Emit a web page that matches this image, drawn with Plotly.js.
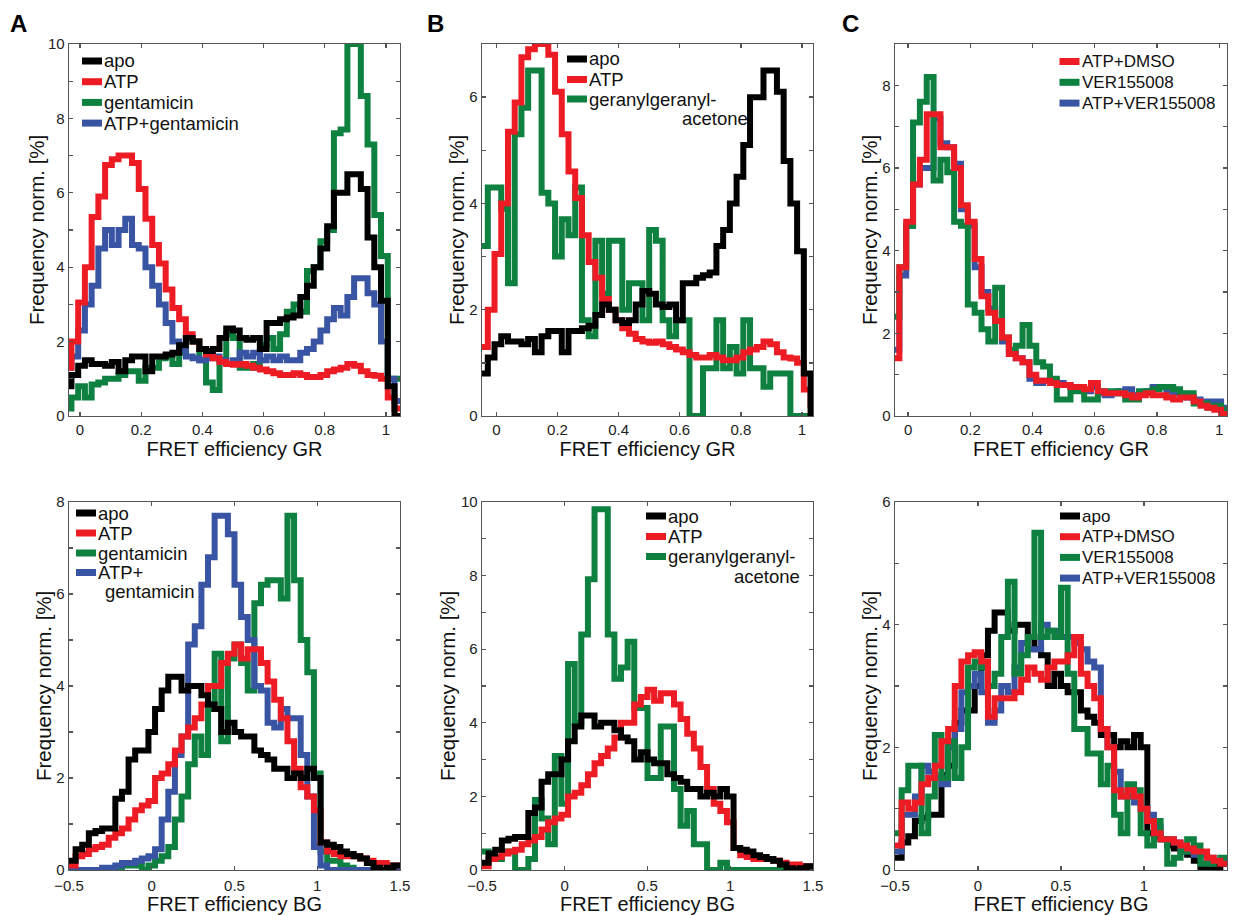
<!DOCTYPE html>
<html>
<head>
<meta charset="utf-8">
<script src="https://cdn.plot.ly/plotly-3.0.1.min.js"></script>
<style>
  html, body { margin: 0; padding: 0; background: #fff; }
  #chart { width: 1236px; height: 915px; }
</style>
</head>
<body>
<div id="chart"></div>
<script>
// ---- histogram binning ----
const grBinStart = -0.05, grBinWidth = 0.022;   // GR efficiency bins (50)
const bgBinStart = -0.5,  bgBinWidth = 0.04;    // BG efficiency bins (50)

// ---- FRET efficiency GR, frequency norm. [%] ----
const apoGR = [0.8,1.1,1.35,1.5,1.4,1.4,1.35,1.45,1.2,1.5,
  1.6,1.6,1.2,1.6,1.6,1.65,1.7,1.9,2.1,2.0,
  1.8,1.75,1.8,2.1,2.35,2.3,2.1,2.05,2.1,1.8,
  2.5,2.5,2.6,2.65,2.7,3.2,3.5,4.0,4.5,5.1,
  6.0,6.0,6.5,6.5,6.1,4.8,4.0,3.1,0.8,0.0];
const atpGR = [1.3,2.0,3.05,4.0,5.35,5.9,6.75,6.9,7.0,7.0,
  6.8,6.1,5.3,4.6,4.1,3.4,2.9,2.6,2.2,2.0,
  1.8,1.65,1.55,1.45,1.4,1.38,1.4,1.35,1.3,1.25,
  1.2,1.15,1.1,1.1,1.15,1.1,1.05,1.05,1.1,1.2,
  1.25,1.3,1.4,1.35,1.2,1.1,1.08,1.0,0.5,0.2];
const gentGR = [0.2,0.5,0.8,0.5,0.85,0.9,1.0,1.0,1.1,1.2,
  1.2,0.95,1.3,1.3,1.55,1.6,1.4,1.7,2.1,2.0,
  1.5,0.9,0.7,1.5,2.2,2.1,1.3,1.3,1.4,1.9,
  2.1,1.8,2.2,2.8,3.0,2.8,3.9,4.0,4.7,5.0,
  7.6,7.7,10.0,10.0,8.6,7.3,5.4,4.3,1.0,1.0];
const atpGentGR = [1.3,1.6,2.3,3.0,3.5,4.5,5.0,4.6,5.0,5.3,
  4.6,4.5,4.0,3.5,3.0,2.5,2.0,1.8,1.6,1.55,
  1.5,1.55,1.6,1.5,1.4,1.5,1.7,1.6,1.7,1.5,
  1.6,1.5,1.6,1.5,1.5,1.7,1.8,2.0,2.3,2.6,
  2.9,2.7,3.2,3.7,3.7,3.3,3.0,2.0,1.0,0.4];
const ggaGR = [3.2,4.3,4.3,3.9,2.5,5.3,5.8,6.5,6.5,4.2,
  4.0,3.0,3.7,3.4,4.3,1.8,1.5,3.3,2.3,3.3,
  3.3,2.0,2.5,2.5,1.8,3.5,3.3,1.8,1.5,1.8,
  1.8,0.0,0.0,0.9,0.9,1.8,0.9,1.3,0.8,1.8,
  0.9,0.9,0.55,0.8,0.8,0.8,0.0,0.0,0.0,0.0];
const atpDmsoGR = [1.4,3.6,4.7,5.6,6.2,7.3,7.3,6.5,6.5,6.0,
  5.1,4.7,3.8,2.9,2.5,2.3,1.9,1.5,1.4,1.3,
  1.0,0.85,0.85,0.8,0.75,0.75,0.7,0.7,0.65,0.8,
  0.6,0.55,0.55,0.55,0.5,0.45,0.5,0.55,0.5,0.5,
  0.45,0.4,0.45,0.45,0.35,0.25,0.2,0.15,0.05,0.0];
const verGR = [2.4,3.6,4.6,7.1,7.6,8.2,5.7,6.2,5.9,4.7,
  4.6,2.7,2.5,2.1,1.8,3.1,1.9,1.6,1.7,2.2,
  1.7,1.3,1.2,0.9,0.4,0.4,0.6,0.6,0.4,0.4,
  0.6,0.6,0.6,0.55,0.4,0.4,0.6,0.6,0.65,0.7,
  0.7,0.65,0.55,0.55,0.3,0.3,0.2,0.25,0.15,0.1];
const atpVerGR = [1.6,3.4,4.6,5.6,6.0,6.0,7.2,6.6,6.5,6.1,
  5.0,4.6,3.6,3.0,2.6,2.3,1.8,1.5,1.4,1.3,
  0.9,0.8,0.85,0.85,0.8,0.75,0.7,0.65,0.6,0.7,
  0.55,0.5,0.55,0.6,0.65,0.5,0.55,0.6,0.7,0.7,
  0.6,0.55,0.5,0.45,0.4,0.35,0.35,0.35,0.2,0.1];

// ---- FRET efficiency BG, frequency norm. [%] ----
const apoBG = [0.2,0.45,0.55,0.8,0.85,0.9,0.9,1.55,1.7,2.4,
  2.6,2.6,3.0,3.5,3.9,4.2,4.2,3.9,4.0,4.0,
  3.8,3.6,3.5,3.0,3.2,3.0,2.9,2.9,2.6,2.5,
  2.4,2.2,2.2,2.0,2.1,2.0,2.2,2.0,0.6,0.55,
  0.5,0.4,0.35,0.3,0.25,0.15,0.05,0.0,0.05,0.1];
const atpBG = [0.1,0.3,0.35,0.45,0.5,0.55,0.7,0.8,0.9,1.1,
  1.3,1.4,1.5,2.0,2.1,2.3,2.6,2.9,3.1,3.3,
  3.6,4.0,4.0,4.5,4.7,4.9,4.6,4.8,4.8,4.5,
  4.1,3.7,3.3,2.8,2.2,1.8,1.6,1.3,0.6,0.4,
  0.35,0.3,0.3,0.3,0.25,0.2,0.15,0.15,0.1,0.1];
const gentBG = [0,0,0,0,0,0,0,0.05,0.1,0.1,
  0.1,0.0,0.1,0.2,0.3,0.5,1.1,1.6,2.3,2.9,
  2.5,3.5,4.7,2.8,4.6,4.9,4.5,3.9,5.8,6.2,
  6.3,6.3,5.9,7.7,6.3,5.0,4.3,2.1,0.4,0.2,
  0.2,0.1,0.05,0,0,0,0,0,0,0];
const atpGentBG = [0,0,0,0,0,0.05,0.05,0.1,0.15,0.15,
  0.2,0.25,0.3,0.45,1.1,1.7,2.5,2.9,4.9,5.3,
  6.2,6.8,7.7,7.7,7.3,6.2,5.5,5.0,4.0,3.9,
  3.2,3.1,3.5,3.3,3.3,2.5,1.6,0.5,0.1,0,
  0,0,0,0,0,0,0,0,0,0];
const ggaBG = [0.5,0.3,0.3,0.5,0.5,0.0,0.0,0.3,1.9,1.4,
  0.7,3.1,1.8,5.6,4.0,6.4,7.9,9.8,9.8,6.4,
  5.2,5.5,6.2,4.4,4.4,2.5,2.5,3.9,3.9,2.2,
  1.2,1.6,0.7,0.7,0.0,0.0,0.2,0,0,0,
  0,0,0,0,0,0,0,0,0,0];
const atpDmsoBG = [0.4,1.1,1.0,1.1,1.4,1.5,1.7,2.1,2.3,3.0,
  3.4,3.5,3.55,3.4,2.5,2.8,2.8,2.8,2.9,3.1,
  3.3,3.2,3.1,3.3,3.4,3.4,3.5,3.8,3.2,3.0,
  2.8,2.3,2.0,1.3,1.2,1.3,1.2,1.0,0.8,0.6,
  0.5,0.5,0.45,0.4,0.35,0.3,0.3,0.2,0.15,0.1];
const verBG = [0.6,1.3,1.7,1.7,0.6,1.2,2.2,1.5,2.1,1.5,
  2.0,3.3,3.4,3.3,3.0,3.2,3.8,4.7,3.2,3.5,
  3.8,5.5,3.8,3.9,3.8,4.6,3.2,2.3,2.3,1.9,
  1.9,1.4,1.7,0.9,0.6,1.4,1.3,0.6,0.4,0.8,
  0.5,0.1,0.2,0.3,0.5,0.4,0.1,0.1,0.15,0.2];
const atpVerBG = [0.3,0.9,0.9,1.2,1.7,1.6,1.5,1.4,2.0,2.3,
  2.9,3.0,3.2,2.9,2.4,2.6,3.0,2.9,3.3,3.7,
  3.6,3.6,4.0,3.9,3.9,3.8,3.8,3.7,3.6,3.4,
  3.3,2.3,2.0,1.6,1.2,1.2,1.1,1.0,0.9,0.7,
  0.5,0.5,0.45,0.35,0.3,0.25,0.25,0.2,0.15,0.15];

// ---- labels ----
const panelLetters = ['A', 'B', 'C'];
const xTitleGR = 'FRET efficiency GR';
const xTitleBG = 'FRET efficiency BG';
const yTitle = 'Frequency norm. [%]';

// ---- styling ----
const FONT = 'Liberation Sans, Arial, sans-serif';
const C = { black: '#000000', red: '#ED1C24', green: '#0E8040', blue: '#3A54A4' };
const LINE_W = 6;
const AXIS_GREY = '#555555';

// page geometry
const W = 1236, H = 915;
const M = { l: 69, r: 9, t: 44, b: 45 };
const PW = W - M.l - M.r, PH = H - M.t - M.b;
const fx = x => (x - M.l) / PW;          // page px -> paper x
const fy = y => (H - M.b - y) / PH;      // page px -> paper y

const cols = [[69, 400], [482, 813], [895, 1227]];
const rows = [[44, 416], [502, 870]];

// panels: grid cell, ranges, series (draw order), y-title position, legend
const panels = [
  { col: 0, row: 0, xr: [-0.036, 1.046], yr: [0, 10], bins: 'GR', yTitleX: 36,
    series: [['gentamicin', gentGR, C.green], ['ATP+gentamicin', atpGentGR, C.blue],
             ['ATP', atpGR, C.red], ['apo', apoGR, C.black]],
    legend: { x: 82, size: 18.5, ys: [61, 81.7, 102.4, 123.1],
      items: [['apo', C.black], ['ATP', C.red], ['gentamicin', C.green], ['ATP+gentamicin', C.blue]] } },
  { col: 1, row: 0, xr: [-0.047, 1.036], yr: [0, 7], bins: 'GR', yTitleX: 456,
    series: [['geranylgeranylacetone', ggaGR, C.green], ['ATP', atpGR, C.red], ['apo', apoGR, C.black]],
    legend: { x: 567, size: 18.5, ys: [59, 79.5, 99],
      items: [['apo', C.black], ['ATP', C.red], ['geranylgeranyl-', C.green]],
      extra: [['acetone', 681, 118]] } },
  { col: 2, row: 0, xr: [-0.042, 1.025], yr: [0, 9], bins: 'GR', yTitleX: 869,
    series: [['ATP+VER155008', atpVerGR, C.blue], ['VER155008', verGR, C.green], ['ATP+DMSO', atpDmsoGR, C.red]],
    legend: { x: 1059.5, size: 17, ys: [61.5, 82.3, 103.1],
      items: [['ATP+DMSO', C.red], ['VER155008', C.green], ['ATP+VER155008', C.blue]] } },
  { col: 0, row: 1, xr: [-0.5, 1.5], yr: [0, 8], bins: 'BG', yTitleX: 43,
    series: [['gentamicin', gentBG, C.green], ['ATP+gentamicin', atpGentBG, C.blue],
             ['ATP', atpBG, C.red], ['apo', apoBG, C.black]],
    legend: { x: 76, size: 18.5, ys: [513, 533, 553, 572.5],
      items: [['apo', C.black], ['ATP', C.red], ['gentamicin', C.green], ['ATP+', C.blue]],
      extra: [['gentamicin', 104, 591]] } },
  { col: 1, row: 1, xr: [-0.5, 1.5], yr: [0, 10], bins: 'BG', yTitleX: 447,
    series: [['geranylgeranylacetone', ggaBG, C.green], ['ATP', atpBG, C.red], ['apo', apoBG, C.black]],
    legend: { x: 646, size: 18.5, ys: [516, 536.5, 556.5],
      items: [['apo', C.black], ['ATP', C.red], ['geranylgeranyl-', C.green]],
      extra: [['acetone', 733, 576]] } },
  { col: 2, row: 1, xr: [-0.5, 1.5], yr: [0, 6], bins: 'BG', yTitleX: 869,
    series: [['apo', apoBG, C.black], ['ATP+VER155008', atpVerBG, C.blue],
             ['VER155008', verBG, C.green], ['ATP+DMSO', atpDmsoBG, C.red]],
    legend: { x: 1060, size: 17, ys: [516, 536.7, 557.4, 578.1],
      items: [['apo', C.black], ['ATP+DMSO', C.red], ['VER155008', C.green], ['ATP+VER155008', C.blue]] } }
];

// stairs outline for a histogram: left edges + closing right edge
function stairs(start, width, values) {
  const x = values.map((_, i) => start + i * width);
  x.push(start + values.length * width);
  const y = values.concat([values[values.length - 1]]);
  return { x, y };
}

const axisBase = {
  showline: true, linecolor: AXIS_GREY, linewidth: 1.3, mirror: 'ticks',
  ticks: 'inside', ticklen: 4, tickwidth: 1.3, tickcolor: AXIS_GREY,
  showgrid: false, zeroline: false, fixedrange: true,
  tickfont: { family: FONT, size: 15, color: '#222' }
};
const titleFont = { family: FONT, size: 20, color: '#111' };

const traces = [];
const layout = {
  width: W, height: H, margin: M,
  paper_bgcolor: '#fff', plot_bgcolor: '#fff',
  showlegend: false, font: { family: FONT, color: '#111' },
  annotations: [], shapes: []
};

panels.forEach((p, i) => {
  const n = i === 0 ? '' : String(i + 1);
  const xa = 'x' + n, ya = 'y' + n;
  const [x0, x1] = cols[p.col], [y0, y1] = rows[p.row];
  const isGR = p.bins === 'GR';

  layout['xaxis' + n] = Object.assign({}, axisBase, {
    domain: [fx(x0), fx(x1)], anchor: ya, range: p.xr,
    tick0: 0, dtick: isGR ? 0.2 : 0.5, ticklabelstandoff: isGR ? 0 : 2,
    title: { text: isGR ? xTitleGR : xTitleBG, font: titleFont, standoff: 0 }
  });
  layout['yaxis' + n] = Object.assign({}, axisBase, {
    domain: [fy(y1), fy(y0)], anchor: xa, range: p.yr,
    tick0: 0, dtick: 2,
    minor: { dtick: 1, ticks: 'inside', ticklen: 4, tickwidth: 1.3, tickcolor: AXIS_GREY }
  });

  // y-axis title, set beside the tick labels
  layout.annotations.push({
    xref: 'paper', yref: 'paper', x: fx(p.yTitleX), y: fy((y0 + y1) / 2),
    xanchor: 'center', yanchor: 'middle', textangle: -90, showarrow: false, borderpad: 0,
    text: yTitle, font: { family: FONT, size: 20.5, color: '#111' }
  });

  p.series.forEach(([name, vals, color]) => {
    const s = isGR ? stairs(grBinStart, grBinWidth, vals) : stairs(bgBinStart, bgBinWidth, vals);
    traces.push({
      type: 'scatter', mode: 'lines', name, x: s.x, y: s.y,
      xaxis: xa, yaxis: ya, line: { shape: 'hv', color, width: LINE_W }
    });
  });

  // legend: colour bar + label
  const lg = p.legend;
  const lf = { family: FONT, size: lg.size, color: '#111' };
  lg.items.forEach(([label, color], k) => {
    layout.shapes.push({
      type: 'line', xref: 'paper', yref: 'paper',
      x0: fx(lg.x), x1: fx(lg.x + 20), y0: fy(lg.ys[k]), y1: fy(lg.ys[k]),
      line: { color, width: 7 }
    });
    layout.annotations.push({
      xref: 'paper', yref: 'paper', x: fx(lg.x + 21), y: fy(lg.ys[k]),
      xanchor: 'left', yanchor: 'middle', showarrow: false, borderpad: 0,
      text: label, font: lf
    });
  });
  (lg.extra || []).forEach(([label, x, y]) => {
    layout.annotations.push({
      xref: 'paper', yref: 'paper', x: fx(x), y: fy(y),
      xanchor: 'left', yanchor: 'middle', showarrow: false, borderpad: 0,
      text: label, font: lf
    });
  });
});

// panel letters
[[18.5, 'A'], [435, 'B'], [850, 'C']].forEach(([x], k) => {
  layout.annotations.push({
    xref: 'paper', yref: 'paper', x: fx(x), y: fy(23), xanchor: 'center', yanchor: 'middle',
    showarrow: false, text: '<b>' + panelLetters[k] + '</b>',
    font: { family: FONT, size: 24, color: '#000' }
  });
});

Plotly.newPlot('chart', traces, layout, { staticPlot: true, displayModeBar: false });
</script>
</body>
</html>
